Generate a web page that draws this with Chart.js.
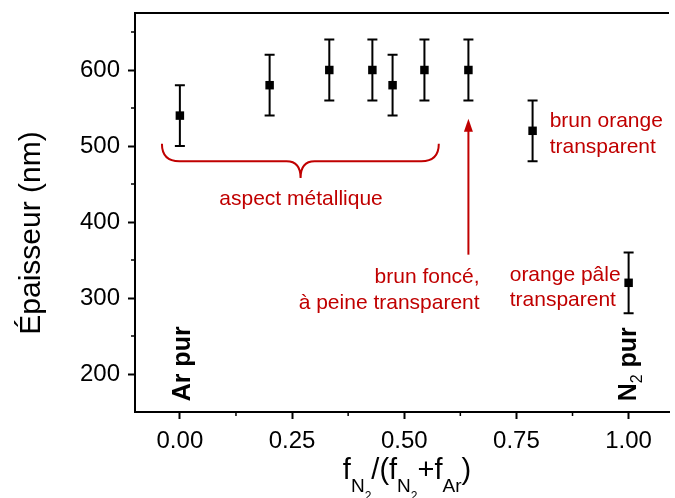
<!DOCTYPE html>
<html>
<head>
<meta charset="utf-8">
<script src="https://cdn.jsdelivr.net/npm/chart.js@4"></script>
<style>
  html, body { margin: 0; padding: 0; background: #fff; }
  #wrap { width: 675px; height: 498px; position: relative; }
</style>
</head>
<body>
<div id="wrap"><canvas id="chart-epaisseur"></canvas></div>
<script>
// data
const fractions = [0, 0.2, 0.333, 0.429, 0.474, 0.545, 0.643, 0.786, 1.0];
const thickness = [540, 580, 600, 600, 580, 600, 600, 520, 320];
const errors = [40, 40, 40, 40, 40, 40, 40, 40, 40];

const RED = 'rgb(192, 0, 0)';
const FONT = '"Liberation Sans", Arial, sans-serif';

// red annotations, positions in data units
const notes = [
  { text: 'aspect métallique', x: 0.27, y: 422, align: 'center' },
  { text: 'brun foncé,', x: 0.668, y: 320, align: 'right' },
  { text: 'à peine transparent', x: 0.668, y: 285, align: 'right' },
  { text: 'brun orange', x: 0.824, y: 525, align: 'left' },
  { text: 'transparent', x: 0.824, y: 491, align: 'left' },
  { text: 'orange pâle', x: 0.735, y: 322, align: 'left' },
  { text: 'transparent', x: 0.735, y: 289, align: 'left' }
];

const errorBars = {
  id: 'errorBars',
  beforeDatasetsDraw(chart) {
    const ctx = chart.ctx, xs = chart.scales.x, ys = chart.scales.y;
    ctx.save();
    ctx.strokeStyle = '#000';
    ctx.lineWidth = 2;
    fractions.forEach((f, i) => {
      const px = xs.getPixelForValue(f);
      const top = ys.getPixelForValue(thickness[i] + errors[i]);
      const bot = ys.getPixelForValue(thickness[i] - errors[i]);
      ctx.beginPath();
      ctx.moveTo(px, top); ctx.lineTo(px, bot);
      ctx.moveTo(px - 5, top); ctx.lineTo(px + 5, top);
      ctx.moveTo(px - 5, bot); ctx.lineTo(px + 5, bot);
      ctx.stroke();
    });
    ctx.restore();
  }
};

const decorations = {
  id: 'decorations',
  afterDraw(chart) {
    const ctx = chart.ctx, xs = chart.scales.x, ys = chart.scales.y;
    const area = chart.chartArea;
    const X = v => xs.getPixelForValue(v);
    const Y = v => ys.getPixelForValue(v);
    ctx.save();

    // top frame line
    ctx.strokeStyle = '#000';
    ctx.lineWidth = 2;
    ctx.beginPath();
    ctx.moveTo(area.left, area.top); ctx.lineTo(area.right, area.top);
    ctx.stroke();

    // minor ticks
    ctx.lineWidth = 1.5;
    ctx.beginPath();
    const xt = xs.ticks.map(t => t.value);
    for (let i = 0; i < xt.length - 1; i++) {
      const p = X((xt[i] + xt[i + 1]) / 2);
      ctx.moveTo(p, area.bottom); ctx.lineTo(p, area.bottom + 4);
    }
    const yt = ys.ticks.map(t => t.value);
    const ymin = [yt[0] - 50].concat(yt.map(v => v + 50));
    ymin.forEach(v => {
      if (v <= ys.min || v >= ys.max) return;
      const p = Y(v);
      ctx.moveTo(area.left, p); ctx.lineTo(area.left - 4, p);
    });
    ctx.stroke();

    // curly brace
    ctx.strokeStyle = RED;
    ctx.lineWidth = 2;
    const xl = X(-0.04), xr = X(0.577), xm = X(0.269);
    const yTop = Y(503), yLine = Y(480), yTip = Y(458);
    const r = yLine - yTop;
    ctx.beginPath();
    ctx.moveTo(xl, yTop);
    ctx.quadraticCurveTo(xl, yLine, xl + r, yLine);
    ctx.lineTo(xm - 14, yLine);
    ctx.quadraticCurveTo(xm, yLine, xm, yTip);
    ctx.moveTo(xr, yTop);
    ctx.quadraticCurveTo(xr, yLine, xr - r, yLine);
    ctx.lineTo(xm + 14, yLine);
    ctx.quadraticCurveTo(xm, yLine, xm, yTip);
    ctx.stroke();

    // arrow
    const ax = X(0.643), aTip = Y(536), aEnd = Y(357);
    ctx.beginPath();
    ctx.moveTo(ax, aEnd); ctx.lineTo(ax, aTip + 10);
    ctx.stroke();
    ctx.fillStyle = RED;
    ctx.beginPath();
    ctx.moveTo(ax, aTip);
    ctx.lineTo(ax - 4.5, aTip + 13);
    ctx.lineTo(ax + 4.5, aTip + 13);
    ctx.closePath();
    ctx.fill();

    // red texts
    ctx.font = '21px ' + FONT;
    ctx.textBaseline = 'alphabetic';
    notes.forEach(n => {
      ctx.textAlign = n.align;
      ctx.fillText(n.text, X(n.x), Y(n.y));
    });

    // rotated labels
    ctx.fillStyle = '#000';
    ctx.textAlign = 'left';
    ctx.save();
    ctx.translate(X(0.022), Y(164));
    ctx.rotate(-Math.PI / 2);
    ctx.font = 'bold 25px ' + FONT;
    ctx.fillText('Ar pur', 0, 0);
    ctx.restore();

    ctx.save();
    ctx.translate(X(1.016), Y(164));
    ctx.rotate(-Math.PI / 2);
    let cx = 0;
    ctx.font = 'bold 25px ' + FONT;
    ctx.fillText('N', cx, 0); cx += ctx.measureText('N').width;
    ctx.font = '16px ' + FONT;
    ctx.fillText('2', cx, 6); cx += ctx.measureText('2').width;
    ctx.font = 'bold 25px ' + FONT;
    ctx.fillText(' pur', cx, 0);
    ctx.restore();

    // y axis title
    ctx.save();
    ctx.translate(40, 233);
    ctx.rotate(-Math.PI / 2);
    ctx.textAlign = 'center';
    ctx.font = '30px ' + FONT;
    ctx.fillText('Épaisseur (nm)', 0, 0);
    ctx.restore();

    // x axis title with subscripts
    const parts = [
      ['f', 29, 0], ['N', 19, 13], ['2', 12, 21], ['/(', 29, 0],
      ['f', 29, 0], ['N', 19, 13], ['2', 12, 21], ['+f', 29, 0],
      ['Ar', 19, 13], [')', 29, 0]
    ];
    let total = 0;
    parts.forEach(p => { ctx.font = p[1] + 'px ' + FONT; total += ctx.measureText(p[0]).width; });
    let px = 407 - total / 2;
    const base = 479;
    ctx.textAlign = 'left';
    parts.forEach(p => {
      ctx.font = p[1] + 'px ' + FONT;
      ctx.fillText(p[0], px, base + p[2]);
      px += ctx.measureText(p[0]).width;
    });

    ctx.restore();
  }
};

new Chart(document.getElementById('chart-epaisseur'), {
  type: 'scatter',
  data: {
    datasets: [{
      label: 'Épaisseur',
      data: fractions.map((f, i) => ({ x: f, y: thickness[i] })),
      pointStyle: 'rect',
      pointRadius: 6,
      backgroundColor: '#000',
      borderWidth: 0
    }]
  },
  options: {
    responsive: true,
    maintainAspectRatio: false,
    animation: false,
    events: [],
    layout: { padding: { top: 13, right: 0, left: 0, bottom: 0 } },
    plugins: {
      legend: { display: false },
      tooltip: { enabled: false },
      title: { display: false }
    },
    scales: {
      x: {
        type: 'linear',
        min: -0.1,
        max: 1.09,
        afterFit: s => { s.height = 86; s.paddingLeft = 0; s.paddingRight = 0; },
        grid: { drawOnChartArea: false, tickLength: 7, tickWidth: 2, tickColor: '#000' },
        border: { color: '#000', width: 2 },
        ticks: {
          stepSize: 0.25,
          includeBounds: false,
          padding: 8,
          color: '#000',
          font: { family: FONT, size: 24 },
          maxRotation: 0,
          callback: v => v.toFixed(2)
        }
      },
      y: {
        min: 150,
        max: 675,
        afterFit: s => { s.width = 135; s.paddingTop = 0; s.paddingBottom = 0; },
        grid: { drawOnChartArea: false, tickLength: 7, tickWidth: 2, tickColor: '#000' },
        border: { color: '#000', width: 2 },
        ticks: {
          stepSize: 100,
          includeBounds: false,
          padding: 8,
          color: '#000',
          font: { family: FONT, size: 24 }
        }
      }
    }
  },
  plugins: [errorBars, decorations]
});
</script>
</body>
</html>
